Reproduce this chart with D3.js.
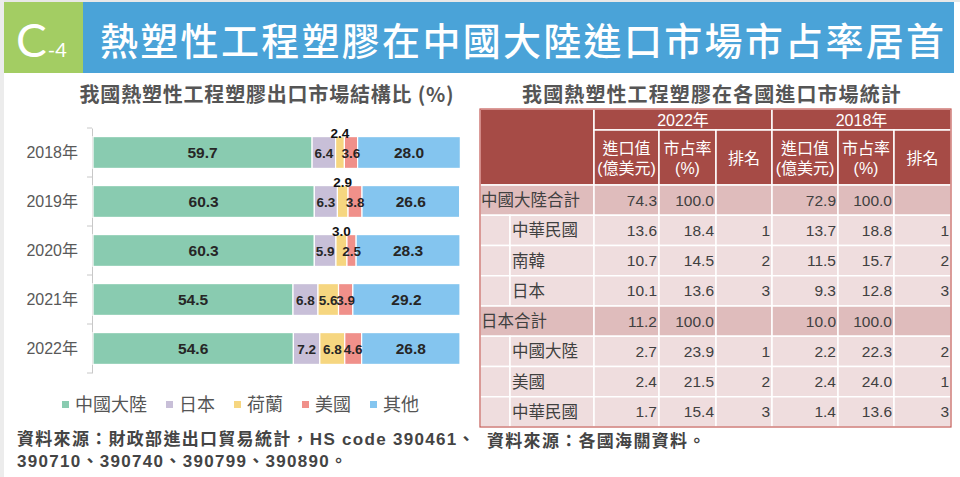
<!DOCTYPE html>
<html><head><meta charset="utf-8">
<script src="https://cdn.jsdelivr.net/npm/d3@7"></script>
<style>
html,body{margin:0;padding:0;background:#fff;}
svg{display:block;font-family:"Liberation Sans","Noto Sans CJK TC",sans-serif;}
</style></head>
<body><svg id="c" width="960" height="477"></svg>
<script>
// ---------- data ----------
const years = ["2018年","2019年","2020年","2021年","2022年"];
const seriesNames = ["中國大陸","日本","荷蘭","美國","其他"];
const chinaShare = [59.7,60.3,60.3,54.5,54.6];
const japanShare = [6.4,6.3,5.9,6.8,7.2];
const nlShare    = [2.4,2.9,3.0,5.6,6.8];
const usShare    = [3.6,3.8,2.5,3.9,4.6];
const otherShare = [28.0,26.6,28.3,29.2,26.8];

const tableRowNames = ["中國大陸合計","中華民國","南韓","日本","日本合計","中國大陸","美國","中華民國"];
const tableRowIsTotal = [true,false,false,false,true,false,false,false];
const import2022 = [74.3,13.6,10.7,10.1,11.2,2.7,2.4,1.7];
const share2022  = [100.0,18.4,14.5,13.6,100.0,23.9,21.5,15.4];
const rank2022   = [null,1,2,3,null,1,2,3];
const import2018 = [72.9,13.7,11.5,9.3,10.0,2.2,2.4,1.4];
const share2018  = [100.0,18.8,15.7,12.8,100.0,22.3,24.0,13.6];
const rank2018   = [null,1,2,3,null,2,1,3];
const tableYears = ["2022年","2018年"];
const subHeads = [["進口值","(億美元)"],["市占率","(%)"],["排名"]];

const colors = ["#89CBB0","#C8BFD8","#F6D680","#F0908A","#84C5EF"];
const CJK = "'Noto Sans CJK TC','Noto Sans CJK SC',sans-serif";

const svg = d3.select("#c");

// ---------- frame / header ----------
svg.append("rect").attr("x",0).attr("y",0).attr("width",960).attr("height",477).attr("fill","#fff");
svg.append("rect").attr("x",0).attr("y",0).attr("width",960).attr("height",2).attr("fill","#e8e8e8");
svg.append("rect").attr("x",0).attr("y",0).attr("width",4).attr("height",477).attr("fill","#ececec");
svg.append("rect").attr("x",4).attr("y",2).attr("width",79).attr("height",71).attr("fill","#A3CD63");
svg.append("rect").attr("x",83).attr("y",2).attr("width",871).attr("height",71).attr("fill","#4AA3D8");
const ct = svg.append("text").attr("x",16).attr("y",57).attr("fill","#fff")
  .style("font-family","Lato,'Open Sans',sans-serif");
ct.append("tspan").text("C").style("font-size","46px");
ct.append("tspan").text("-4").style("font-size","20px").attr("dx",1);
svg.append("text").attr("x",100).attr("y",55).attr("fill","#fff")
  .style("font-family",CJK).style("font-size","38px").style("font-weight","500")
  .style("letter-spacing","2.3px")
  .text("熱塑性工程塑膠在中國大陸進口市場市占率居首");

// ---------- bar chart ----------
svg.append("text").attr("x",267).attr("y",102).attr("text-anchor","middle")
  .attr("fill","#555").style("font-family",CJK).style("font-size","20px").style("font-weight","bold")
  .style("letter-spacing","0.8px")
  .text("我國熱塑性工程塑膠出口市場結構比 (%)");

const rows = years.map((y,i)=>({year:y, vals:[chinaShare[i],japanShare[i],nlShare[i],usShare[i],otherShare[i]]}));
const x = d3.scaleLinear().domain([0,100]).range([93,460]);
const y = d3.scaleBand().domain(years).range([128,373]).paddingInner(0.35).paddingOuter(0.175);

const yAxis = d3.axisLeft(y).tickSize(0).tickPadding(14);
const ga = svg.append("g").attr("transform","translate(92,0)").call(yAxis);
ga.select(".domain").attr("stroke","#c8c8c8");
ga.selectAll("text").attr("fill","#595959").style("font-size","16px").style("font-family","'Liberation Sans',"+CJK);
// boundary ticks
const bounds = d3.range(years.length+1).map(i=>128+i*(245/years.length));
svg.append("g").selectAll("line").data(bounds).join("line")
  .attr("x1",87).attr("x2",92).attr("y1",d=>d).attr("y2",d=>d).attr("stroke","#c8c8c8");

const segs = [];
rows.forEach(r=>{
  let acc=0;
  r.vals.forEach((v,k)=>{segs.push({year:r.year,k,v,x0:acc,x1:acc+v}); acc+=v;});
});
svg.append("g").selectAll("rect").data(segs).join("rect")
  .attr("x",d=>x(d.x0)).attr("width",d=>x(d.x1)-x(d.x0))
  .attr("y",d=>y(d.year)).attr("height",y.bandwidth())
  .attr("fill",d=>colors[d.k]).attr("stroke","#fff").attr("stroke-width",1.2);

svg.append("g").selectAll("text").data(segs).join("text")
  .attr("x",d=>(x(d.x0)+x(d.x1))/2)
  .attr("y",d=>{
    const above = d.k===2 && d.v<4;
    return above ? y(d.year)+1 : y(d.year)+y.bandwidth()/2+ (d.k===0||d.k===4?5.5:5);
  })
  .attr("text-anchor","middle")
  .attr("fill",d=>(d.k===2 && d.v<4)?"#111":"#262626")
  .style("font-weight","bold")
  .style("font-size",d=>(d.k===0||d.k===4)?"15.5px":"13.5px")
  .style("font-family","'Liberation Sans',Arial,sans-serif")
  .text(d=>d.v.toFixed(1));

// legend
const lg = svg.append("g");
let lx = 62;
seriesNames.forEach((n,k)=>{
  lg.append("rect").attr("x",lx).attr("y",401).attr("width",7).attr("height",7).attr("fill",colors[k]);
  const t = lg.append("text").attr("x",lx+13).attr("y",411).attr("fill","#555")
    .style("font-family",CJK).style("font-size","18px").text(n);
  lx += 13 + t.node().getComputedTextLength() + 19;
});

// left footnote
const fn = svg.append("text").attr("fill","#444").style("font-family","'Liberation Sans',"+CJK)
  .style("font-size","17px").style("font-weight","bold").style("letter-spacing","1.3px");
fn.append("tspan").attr("x",17).attr("y",445).text("資料來源：財政部進出口貿易統計，HS code 390461、");
fn.append("tspan").attr("x",17).attr("y",467).text("390710、390740、390799、390890。");

// ---------- table ----------
svg.append("text").attr("x",712).attr("y",102).attr("text-anchor","middle")
  .attr("fill","#555").style("font-family",CJK).style("font-size","20px").style("font-weight","bold")
  .style("letter-spacing","1.1px")
  .text("我國熱塑性工程塑膠在各國進口市場統計");

const colX = [480,594,659,716,772,838,894,951];
const indentX = 510;
const tTop = 109, h1 = 130, h2 = 185, rowH = 30.25;
const headFill = "#A64B46", totFill = "#DFBCBC", subFill = "#EFDDDE";
const tg = svg.append("g");

// header cells
tg.append("rect").attr("x",colX[0]).attr("y",tTop).attr("width",colX[1]-colX[0]).attr("height",h2-tTop).attr("fill",headFill).attr("stroke","#fff").attr("stroke-width",1.5);
tableYears.forEach((yr,i)=>{
  const a = colX[1+i*3], b = colX[4+i*3];
  tg.append("rect").attr("x",a).attr("y",tTop).attr("width",b-a).attr("height",h1-tTop).attr("fill",headFill).attr("stroke","#fff").attr("stroke-width",1.5);
  tg.append("text").attr("x",(a+b)/2).attr("y",h1-4).attr("text-anchor","middle").attr("fill","#fff")
    .style("font-size","16px").style("font-family","'Liberation Sans',"+CJK).text(yr);
  subHeads.forEach((sh,j)=>{
    const c0 = colX[1+i*3+j], c1 = colX[2+i*3+j];
    tg.append("rect").attr("x",c0).attr("y",h1).attr("width",c1-c0).attr("height",h2-h1).attr("fill",headFill).attr("stroke","#fff").attr("stroke-width",1.5);
    sh.forEach((line,m)=>{
      tg.append("text").attr("x",(c0+c1)/2)
        .attr("y", sh.length===1 ? (h1+h2)/2+6 : h1+24+m*20)
        .attr("text-anchor","middle").attr("fill","#fff")
        .style("font-size","16px").style("font-family","'Liberation Sans',"+CJK).text(line);
    });
  });
});

// body
tableRowNames.forEach((name,r)=>{
  const ry = h2 + r*rowH;
  const tot = tableRowIsTotal[r];
  const fill = tot ? totFill : subFill;
  if(tot){
    tg.append("rect").attr("x",colX[0]).attr("y",ry).attr("width",colX[1]-colX[0]).attr("height",rowH).attr("fill",fill).attr("stroke","#fff").attr("stroke-width",1.5);
    tg.append("text").attr("x",colX[0]+1).attr("y",ry+rowH/2+6).attr("fill","#404040")
      .style("font-size","16.5px").style("font-family",CJK).text(name);
  } else {
    tg.append("rect").attr("x",colX[0]).attr("y",ry).attr("width",indentX-colX[0]).attr("height",rowH).attr("fill",fill).attr("stroke","#fff").attr("stroke-width",1.5);
    tg.append("rect").attr("x",indentX).attr("y",ry).attr("width",colX[1]-indentX).attr("height",rowH).attr("fill",fill).attr("stroke","#fff").attr("stroke-width",1.5);
    tg.append("text").attr("x",indentX+2).attr("y",ry+rowH/2+6).attr("fill","#404040")
      .style("font-size","16.5px").style("font-family",CJK).text(name);
  }
  const vals = [import2022[r],share2022[r],rank2022[r],import2018[r],share2018[r],rank2018[r]];
  vals.forEach((v,c)=>{
    const c0 = colX[1+c], c1 = colX[2+c];
    tg.append("rect").attr("x",c0).attr("y",ry).attr("width",c1-c0).attr("height",rowH).attr("fill",fill).attr("stroke","#fff").attr("stroke-width",1.5);
    const isRank = (c===2||c===5);
    tg.append("text").attr("x",c1-2).attr("y",ry+rowH/2+5.5).attr("text-anchor","end").attr("fill","#404040")
      .style("font-size","15.5px").style("font-family","'Liberation Sans',sans-serif")
      .text(isRank ? (v==null?"":String(v)) : v.toFixed(1));
  });
});
const tBottom = h2 + tableRowNames.length*rowH;
tg.append("rect").attr("x",colX[0]).attr("y",tTop).attr("width",colX[7]-colX[0]).attr("height",tBottom-tTop)
  .attr("fill","none").attr("stroke","#C45A55").attr("stroke-width",1.2);

svg.append("text").attr("x",487).attr("y",447).attr("fill","#444").style("font-family","'Liberation Sans',"+CJK)
  .style("font-size","17px").style("font-weight","bold").style("letter-spacing","1.3px").text("資料來源：各國海關資料。");
</script></body></html>
